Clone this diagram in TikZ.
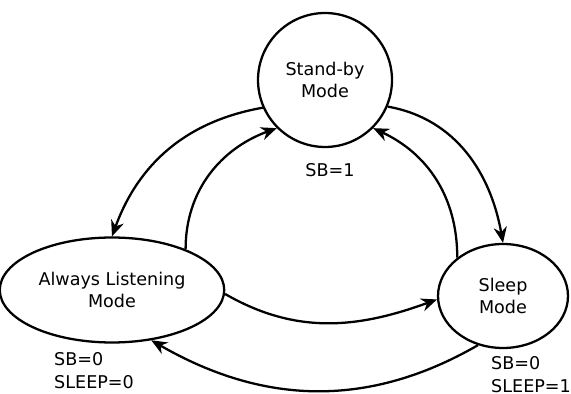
\documentclass[tikz,border=0pt]{standalone}
\usepackage{fontspec}
\setmainfont{DejaVu Sans}
\usetikzlibrary{shapes.geometric,arrows.meta}
\begin{document}
\begin{tikzpicture}[x=0.02cm, y=-0.02cm, >={Stealth[length=9pt,width=7.5pt]},
    font=\fontsize{10}{12.5}\selectfont,
    state/.style={draw, ellipse, align=center, line width=1.3pt},
    trans/.style={->, line width=1.3pt},
    outputs/.style={align=left, font=\fontsize{10}{13}\selectfont}]
    \useasboundingbox (0,0) rectangle (571,394);

    % States
    \node[state, circle, minimum size=2.68cm] (standby) at (325,80) {Stand-by\\Mode};
    \node[state, minimum width=4cm, minimum height=2.1cm] (listening) at (112,290) {Always Listening\\Mode};
    \node[state, minimum width=2.6cm, minimum height=2.08cm] (sleep) at (503,296) {Sleep\\Mode};

    % Outputs of each state
    \node[outputs] (sbout) at (330,170) {SB=1};
    \node[outputs, anchor=north west] (listenout) at (48,346) {SB=0\\SLEEP=0};
    \node[outputs, anchor=north west] (sleepout) at (485,350) {SB=0\\SLEEP=1};

    % Outer transitions
    \draw[trans] (standby.204) to[out=190, in=70] (listening.90);
    \draw[trans] (standby.337) to[out=-10, in=100] (sleep.90);
    \draw[trans] (sleep.243) to[out=210, in=-30] (listening.308);

    % Inner transitions
    \draw[trans] (listening.29) to[out=90, in=200] (standby.225);
    \draw[trans] (sleep.140) to[out=90, in=-25] (standby.315);
    \draw[trans] (listening.358) to[out=-30, in=200] (sleep.183);
\end{tikzpicture}
\end{document}
